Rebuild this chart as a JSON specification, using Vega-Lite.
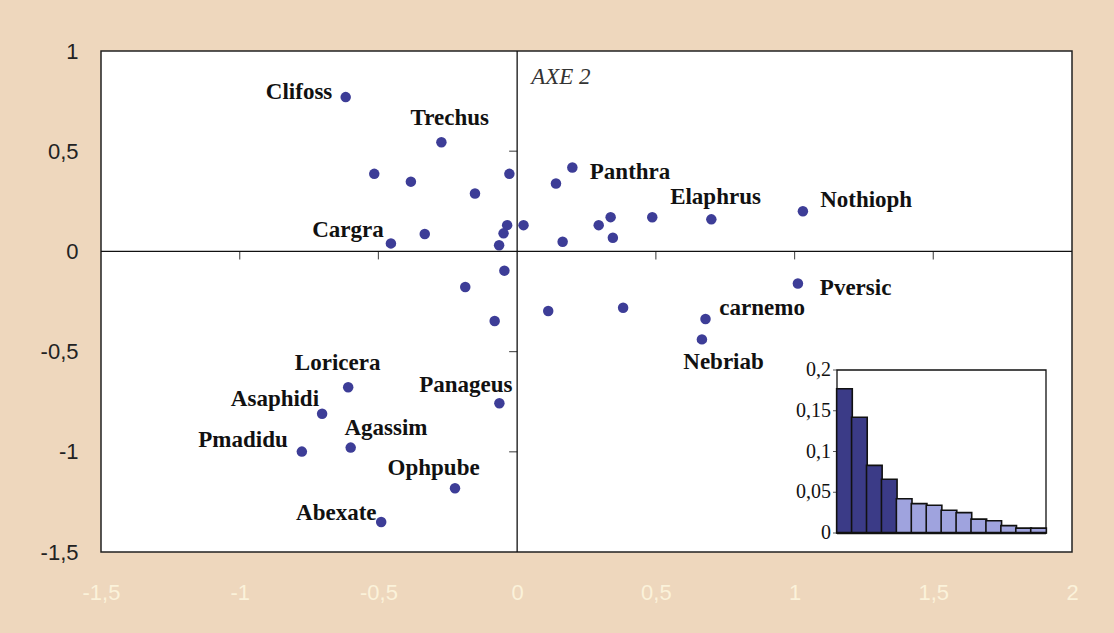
{
  "$schema": "https://vega.github.io/schema/vega-lite/v6.json",
  "width": 971,
  "height": 501,
  "autosize": {"type": "none"},
  "padding": {"left": 101, "top": 51, "right": 42, "bottom": 81},
  "background": "#eed7bd",
  "config": {
    "view": {"fill": "white", "stroke": "#222222", "strokeWidth": 1.5}
  },
  "datasets": {
    "pts": [
      {"x": -0.618, "y": 0.770, "name": "Clifoss", "lx": -0.786, "ly": 0.795},
      {"x": -0.273, "y": 0.545, "name": "Trechus", "lx": -0.243, "ly": 0.668},
      {"x": -0.515, "y": 0.387},
      {"x": -0.383, "y": 0.348},
      {"x": -0.028, "y": 0.387},
      {"x": -0.152, "y": 0.289},
      {"x": -0.455, "y": 0.040, "name": "Cargra", "lx": -0.610, "ly": 0.105},
      {"x": -0.333, "y": 0.087},
      {"x": -0.036, "y": 0.131},
      {"x": -0.049, "y": 0.090},
      {"x": -0.065, "y": 0.031},
      {"x": 0.023, "y": 0.131},
      {"x": 0.199, "y": 0.419, "name": "Panthra", "lx": 0.407, "ly": 0.396},
      {"x": 0.140, "y": 0.339},
      {"x": 0.337, "y": 0.171},
      {"x": 0.294, "y": 0.131},
      {"x": 0.345, "y": 0.068},
      {"x": 0.164, "y": 0.048},
      {"x": 0.487, "y": 0.170},
      {"x": 0.700, "y": 0.160, "name": "Elaphrus", "lx": 0.715, "ly": 0.273},
      {"x": 1.030, "y": 0.200, "name": "Nothioph", "lx": 1.258, "ly": 0.256},
      {"x": -0.046, "y": -0.096},
      {"x": -0.187, "y": -0.178},
      {"x": -0.081, "y": -0.347},
      {"x": 0.112, "y": -0.297},
      {"x": 0.382, "y": -0.281},
      {"x": 1.012, "y": -0.160, "name": "Pversic", "lx": 1.220, "ly": -0.183},
      {"x": 0.679, "y": -0.337, "name": "carnemo", "lx": 0.883, "ly": -0.281},
      {"x": 0.666, "y": -0.439, "name": "Nebriab", "lx": 0.744, "ly": -0.552},
      {"x": -0.609, "y": -0.678, "name": "Loricera", "lx": -0.647, "ly": -0.555},
      {"x": -0.703, "y": -0.810, "name": "Asaphidi", "lx": -0.873, "ly": -0.735},
      {"x": -0.776, "y": -0.999, "name": "Pmadidu", "lx": -0.988, "ly": -0.943},
      {"x": -0.600, "y": -0.979, "name": "Agassim", "lx": -0.473, "ly": -0.883},
      {"x": -0.064, "y": -0.758, "name": "Panageus", "lx": -0.185, "ly": -0.668},
      {"x": -0.224, "y": -1.182, "name": "Ophpube", "lx": -0.301, "ly": -1.082},
      {"x": -0.490, "y": -1.350, "name": "Abexate", "lx": -0.652, "ly": -1.307}
    ],
    "xticks": [{"v": -1}, {"v": -0.5}, {"v": 0.5}, {"v": 1}, {"v": 1.5}],
    "yticks": [{"v": 0.5}, {"v": -0.5}, {"v": -1}],
    "axe": [{"x": 0, "y": 0.868, "t": "AXE 2"}],
    "eig": [
      {"axe": 1, "v": 0.177, "groupe": "retenu"},
      {"axe": 2, "v": 0.142, "groupe": "retenu"},
      {"axe": 3, "v": 0.083, "groupe": "retenu"},
      {"axe": 4, "v": 0.066, "groupe": "retenu"},
      {"axe": 5, "v": 0.042, "groupe": "autre"},
      {"axe": 6, "v": 0.036, "groupe": "autre"},
      {"axe": 7, "v": 0.034, "groupe": "autre"},
      {"axe": 8, "v": 0.028, "groupe": "autre"},
      {"axe": 9, "v": 0.025, "groupe": "autre"},
      {"axe": 10, "v": 0.017, "groupe": "autre"},
      {"axe": 11, "v": 0.015, "groupe": "autre"},
      {"axe": 12, "v": 0.009, "groupe": "autre"},
      {"axe": 13, "v": 0.006, "groupe": "autre"},
      {"axe": 14, "v": 0.006, "groupe": "autre"}
    ],
    "frame": [{"a": 0.5, "b": 14.5, "c": 0, "d": 0.2}],
    "ilab": [
      {"v": 0, "lab": "0"},
      {"v": 0.05, "lab": "0,05"},
      {"v": 0.1, "lab": "0,1"},
      {"v": 0.15, "lab": "0,15"},
      {"v": 0.2, "lab": "0,2"}
    ]
  },
  "layer": [
    {
      "layer": [
        {
          "data": {"name": "pts"},
          "mark": {"type": "circle", "size": 110, "opacity": 1, "color": "#3d3d97"},
          "encoding": {
            "x": {
              "field": "x", "type": "quantitative", "title": null,
              "scale": {"domain": [-1.5, 2], "nice": false, "zero": false},
              "axis": {
                "values": [-1.5, -1, -0.5, 0, 0.5, 1, 1.5, 2],
                "labelExpr": "replace(toString(datum.value), '.', ',')",
                "labelFont": "Liberation Sans", "labelFontSize": 22,
                "labelColor": "#fbf2da", "labelPadding": 30,
                "ticks": false, "domain": false, "grid": false,
                "labelFlush": false, "labelOverlap": false
              }
            },
            "y": {
              "field": "y", "type": "quantitative", "title": null,
              "scale": {"domain": [-1.5, 1], "nice": false, "zero": false},
              "axis": {
                "values": [-1.5, -1, -0.5, 0, 0.5, 1],
                "labelExpr": "replace(toString(datum.value), '.', ',')",
                "labelFont": "Liberation Sans", "labelFontSize": 22,
                "labelColor": "#222222", "labelPadding": 23,
                "ticks": false, "domain": false, "grid": false,
                "labelFlush": false, "labelOverlap": false
              }
            }
          }
        },
        {
          "data": {"name": "axe"},
          "mark": {"type": "rule", "color": "#111111", "strokeWidth": 1.3},
          "encoding": {"x": {"datum": 0, "type": "quantitative"}}
        },
        {
          "data": {"name": "axe"},
          "mark": {"type": "rule", "color": "#111111", "strokeWidth": 1.3},
          "encoding": {"y": {"datum": 0, "type": "quantitative"}}
        },
        {
          "data": {"name": "xticks"},
          "mark": {"type": "tick", "orient": "vertical", "size": 8, "thickness": 1.2, "yOffset": 4, "color": "#111111"},
          "encoding": {
            "x": {"field": "v", "type": "quantitative", "title": null},
            "y": {"datum": 0, "type": "quantitative"}
          }
        },
        {
          "data": {"name": "yticks"},
          "mark": {"type": "tick", "orient": "horizontal", "size": 8, "thickness": 1.2, "xOffset": -4, "color": "#111111"},
          "encoding": {
            "y": {"field": "v", "type": "quantitative", "title": null},
            "x": {"datum": 0, "type": "quantitative"}
          }
        },
        {
          "data": {"name": "pts"},
          "transform": [{"filter": "isValid(datum.name)"}],
          "mark": {"type": "text", "font": "Liberation Serif", "fontWeight": "bold", "fontSize": 23, "color": "#111111", "align": "center", "baseline": "middle"},
          "encoding": {
            "x": {"field": "lx", "type": "quantitative", "title": null},
            "y": {"field": "ly", "type": "quantitative", "title": null},
            "text": {"field": "name"}
          }
        },
        {
          "data": {"name": "axe"},
          "mark": {"type": "text", "font": "Liberation Serif", "fontStyle": "italic", "fontSize": 23, "color": "#333333", "align": "left", "baseline": "middle", "dx": 14},
          "encoding": {
            "x": {"field": "x", "type": "quantitative", "title": null},
            "y": {"field": "y", "type": "quantitative", "title": null},
            "text": {"field": "t"}
          }
        }
      ]
    },
    {
      "layer": [
        {
          "data": {"name": "frame"},
          "mark": {"type": "rect", "fill": "white", "stroke": "#111111", "strokeWidth": 1.3},
          "encoding": {
            "x": {"field": "a", "type": "quantitative", "title": null,
                  "scale": {"domain": [0.5, 14.5], "range": [731, 950], "nice": false, "zero": false},
                  "axis": null},
            "x2": {"field": "b"},
            "y": {"field": "c", "type": "quantitative", "title": null,
                  "scale": {"domain": [0, 0.2], "range": [482, 319], "nice": false, "zero": false},
                  "axis": null},
            "y2": {"field": "d"}
          }
        },
        {
          "data": {"name": "eig"},
          "mark": {"type": "bar", "width": 15.64, "stroke": "#111111", "strokeWidth": 1.6},
          "encoding": {
            "x": {"field": "axe", "type": "quantitative", "title": null},
            "y": {"field": "v", "type": "quantitative", "title": null},
            "color": {"field": "groupe", "type": "nominal",
                      "scale": {"domain": ["retenu", "autre"], "range": ["#3b3b87", "#9fa3de"]},
                      "legend": null}
          }
        },
        {
          "data": {"name": "axe"},
          "mark": {"type": "rule", "color": "#111111", "strokeWidth": 2.5},
          "encoding": {
            "x": {"datum": 0.5, "type": "quantitative"},
            "x2": {"datum": 14.5},
            "y": {"datum": 0, "type": "quantitative"}
          }
        },
        {
          "data": {"name": "ilab"},
          "mark": {"type": "tick", "orient": "horizontal", "size": 4, "thickness": 1, "xOffset": -2, "color": "#111111"},
          "encoding": {
            "x": {"datum": 0.5, "type": "quantitative"},
            "y": {"field": "v", "type": "quantitative", "title": null}
          }
        },
        {
          "data": {"name": "ilab"},
          "mark": {"type": "text", "font": "Liberation Serif", "fontSize": 20, "color": "#111111", "align": "right", "baseline": "middle", "dx": -6},
          "encoding": {
            "x": {"datum": 0.5, "type": "quantitative"},
            "y": {"field": "v", "type": "quantitative", "title": null},
            "text": {"field": "lab"}
          }
        }
      ]
    }
  ],
  "resolve": {"scale": {"x": "independent", "y": "independent"}}
}
